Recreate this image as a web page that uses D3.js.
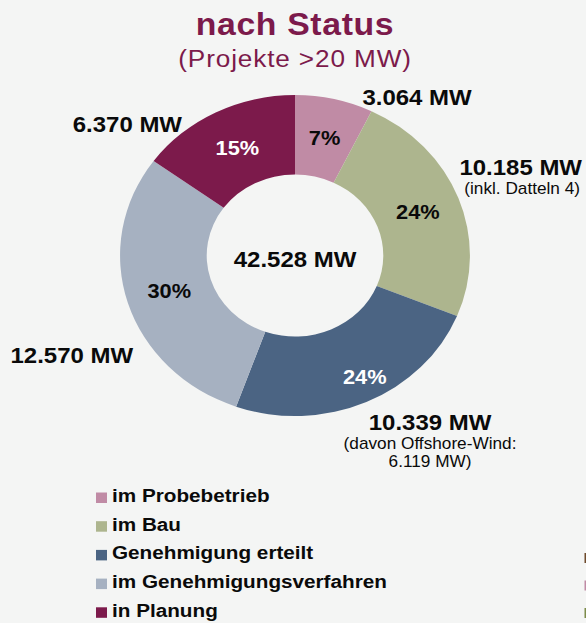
<!DOCTYPE html>
<html>
<head>
<meta charset="utf-8">
<script src="https://cdn.jsdelivr.net/npm/d3@7"></script>
<style>
  html, body { margin: 0; padding: 0; background: #f4f5f4; }
  svg { display: block; font-family: "Liberation Sans", Arial, sans-serif; }
</style>
</head>
<body>
<svg id="chart"></svg>
<script>
// data
const categories = ["im Probebetrieb", "im Bau", "Genehmigung erteilt", "im Genehmigungsverfahren", "in Planung"];
const values = [3064, 10185, 10339, 12570, 6370];
const colors = ["#c08ba5", "#adb58e", "#4b6483", "#a6b1c1", "#7c1a4b"];
const pctColors = ["#0a0a0a", "#0a0a0a", "#fff", "#0a0a0a", "#fff"];
const notes = [[], ["(inkl. Datteln 4)"], ["(davon Offshore-Wind:", "6.119 MW)"], [], []];
// cut-off swatches of the neighbouring chart at the right edge
const edgeSwatches = ["#6e4b2c", "#c08ba5", "#7d8c4a"];

const W = 586, H = 623;
const sx = 1.09; // the original is stretched horizontally
const cx = 295, cy = 255.5;
const rOuter = 160.5, rInner = 81;

const de = d3.formatLocale({decimal: ",", thousands: ".", grouping: [3], currency: ["", ""]});
const fmt = de.format(",");
const total = d3.sum(values);

const svg = d3.select("#chart").attr("width", W).attr("height", H);
svg.append("rect").attr("width", W).attr("height", H).attr("fill", "#f4f5f4");

function txt(x, y, s, size, opts) {
  opts = opts || {};
  return svg.append("text")
    .attr("transform", "translate(" + x + "," + y + ") scale(" + sx + ",1)")
    .attr("text-anchor", opts.anchor || "middle")
    .attr("font-size", size)
    .attr("font-weight", opts.weight || "bold")
    .attr("fill", opts.fill || "#0a0a0a")
    .attr("letter-spacing", opts.ls || 0)
    .text(s);
}

// title
txt(295, 35, "nach Status", 31, {fill: "#7c1a4b", ls: 0.6});
txt(295, 67, "(Projekte >20 MW)", 24, {fill: "#7c1a4b", weight: "normal", ls: 0.8});

// donut
const pie = d3.pie().sort(null).value(d => d);
const arcs = pie(values);
const arc = d3.arc().innerRadius(rInner).outerRadius(rOuter);

const g = svg.append("g")
  .attr("transform", "translate(" + cx + "," + cy + ") scale(" + sx + ",1)");
g.selectAll("path").data(arcs).enter().append("path")
  .attr("d", arc)
  .attr("fill", (d, i) => colors[i]);

// percent labels
const pctShift = [[0, 0], [0, 0], [16, 11], [0, 0], [2, 0]];
arcs.forEach((d, i) => {
  const c = arc.centroid(d);
  txt(cx + c[0] * sx + pctShift[i][0], cy + c[1] + 7 + pctShift[i][1],
      Math.round(d.value / total * 100) + "%", 20, {fill: pctColors[i]});
});

// centre total
txt(cx, 266.5, fmt(total) + " MW", 22);

// value labels
const valuePos = [
  {x: 417, y: 105, a: "middle"},
  {x: 582, y: 175, a: "end"},
  {x: 430, y: 430, a: "middle"},
  {x: 10.5, y: 363, a: "start"},
  {x: 182, y: 132, a: "end"}
];
values.forEach((v, i) => {
  const p = valuePos[i];
  txt(p.x, p.y, fmt(v) + " MW", 22, {anchor: p.a});
  notes[i].forEach((n, j) => {
    const nx = p.a === "end" ? p.x - 2 : p.x;
    txt(nx, p.y + 19 + j * 18, n, 15.8, {anchor: p.a, weight: "normal"});
  });
});

// legend
const legend = svg.append("g");
categories.forEach((c, i) => {
  const y = 502 + i * 28.7;
  legend.append("rect")
    .attr("x", 96).attr("y", y - 9.5).attr("width", 11).attr("height", 10.5)
    .attr("fill", colors[i]);
  txt(112, y, c, 19, {anchor: "start"});
});

// right edge bits
edgeSwatches.forEach((c, i) => {
  svg.append("rect")
    .attr("x", 584.5).attr("y", 553 + i * 27.5).attr("width", 2).attr("height", 10)
    .attr("fill", c);
});
</script>
</body>
</html>
